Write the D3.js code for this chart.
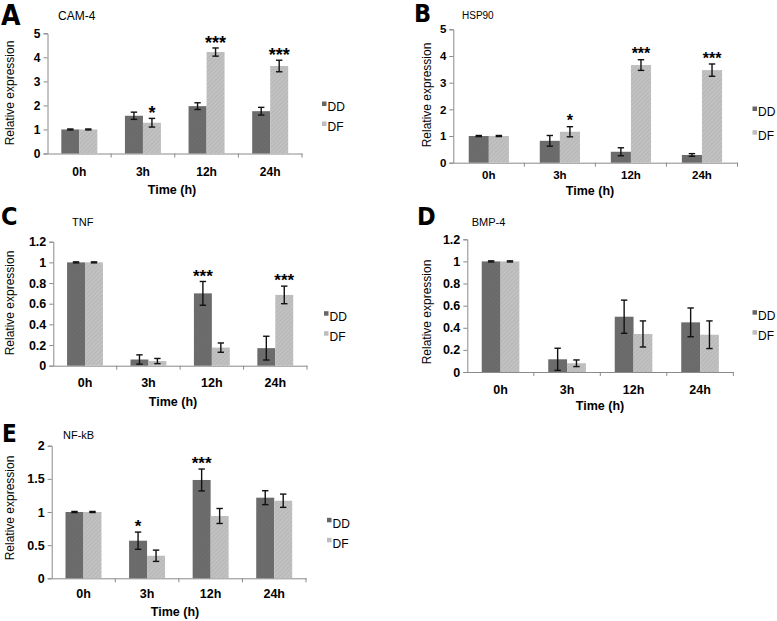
<!DOCTYPE html>
<html>
<head>
<meta charset="utf-8">
<script src="https://cdn.jsdelivr.net/npm/d3@7/dist/d3.min.js"></script>
<style>
  html, body { margin: 0; padding: 0; background: #fff; }
  svg { display: block; }
  text { font-family: "Liberation Sans", Arial, Helvetica, sans-serif; fill: #000; }
</style>
</head>
<body>
<svg id="chart" width="777" height="621"></svg>
<script>
// ---------- data ----------
const categories = ["0h", "3h", "12h", "24h"];
const seriesNames = ["DD", "DF"];

const cam4Values = [[1.0, 1.57, 1.97, 1.76], [1.0, 1.28, 4.22, 3.64]];
const cam4Errors = [[0.02, 0.15, 0.14, 0.16], [0.02, 0.18, 0.17, 0.24]];
const cam4Stars  = [["", "", "", ""], ["", "*", "***", "***"]];
const cam4Ticks  = [0, 1, 2, 3, 4, 5];

const hsp90Values = [[1.0, 0.82, 0.41, 0.29], [1.0, 1.16, 3.66, 3.47]];
const hsp90Errors = [[0.02, 0.2, 0.15, 0.05], [0.02, 0.19, 0.2, 0.23]];
const hsp90Stars  = [["", "", "", ""], ["", "*", "***", "***"]];
const hsp90Ticks  = [0, 1, 2, 3, 4, 5];

const tnfValues = [[1.0, 0.06, 0.70, 0.17], [1.0, 0.045, 0.175, 0.685]];
const tnfErrors = [[0.005, 0.045, 0.115, 0.115], [0.005, 0.025, 0.045, 0.085]];
const tnfStars  = [["", "", "***", ""], ["", "", "", "***"]];
const tnfTicks  = [0, 0.2, 0.4, 0.6, 0.8, 1, 1.2];

const bmp4Values = [[1.0, 0.115, 0.50, 0.449], [1.0, 0.079, 0.344, 0.337]];
const bmp4Errors = [[0.005, 0.1, 0.15, 0.13], [0.005, 0.03, 0.118, 0.125]];
const bmp4Stars  = [["", "", "", ""], ["", "", "", ""]];
const bmp4Ticks  = [0, 0.2, 0.4, 0.6, 0.8, 1, 1.2];

const nfkbValues = [[1.0, 0.567, 1.483, 1.216], [1.0, 0.34, 0.94, 1.17]];
const nfkbErrors = [[0.008, 0.13, 0.165, 0.105], [0.008, 0.085, 0.113, 0.1]];
const nfkbStars  = [["", "*", "***", ""], ["", "", "", ""]];
const nfkbTicks  = [0, 0.5, 1, 1.5, 2];

const panelLetters = ["A", "B", "C", "D", "E"];
const geneNames = ["CAM-4", "HSP90", "TNF", "BMP-4", "NF-kB"];
const yAxisTitle = "Relative expression";
const xAxisTitle = "Time (h)";

// ---------- layout (positions only) ----------
const layouts = [
  { x0: 47.5, x1: 302, y0: 153.5, yTop: 33.3, letter: [1, 25, 28], title: [58, 20, 12], yt: [10, 93], xt: [172, 194], tickY: 176, leg: [322, 107, 127], star: 18, fs: 12 },
  { x0: 453.3, x1: 737.5, y0: 162.7, yTop: 29.3, letter: [414, 22, 25], title: [462, 18.5, 10], yt: [426.7, 95], xt: [590, 195], tickY: 179, leg: [752.5, 112, 135.7], star: 16, fs: 11.5 },
  { x0: 53.3, x1: 307, y0: 365.7, yTop: 241.7, letter: [1, 225, 25], title: [72, 225.5, 11], yt: [10, 303], xt: [173, 406], tickY: 387.5, leg: [324, 316.7, 336.7], star: 17, fs: 12.5 },
  { x0: 467.3, x1: 733.3, y0: 372, yTop: 239.3, letter: [417, 225, 25], title: [471.7, 225.5, 11], yt: [426.7, 312], xt: [600, 410], tickY: 394, leg: [752.5, 315.7, 335.7], star: 17, fs: 12.5 },
  { x0: 51.7, x1: 306, y0: 578.3, yTop: 445.7, letter: [2, 442, 24], title: [63, 439, 11], yt: [10, 508], xt: [175, 616], tickY: 598.5, leg: [327, 523.3, 543.3], star: 17, fs: 12.5 }
];

const panelData = [
  { values: cam4Values, errors: cam4Errors, stars: cam4Stars, ticks: cam4Ticks },
  { values: hsp90Values, errors: hsp90Errors, stars: hsp90Stars, ticks: hsp90Ticks },
  { values: tnfValues, errors: tnfErrors, stars: tnfStars, ticks: tnfTicks },
  { values: bmp4Values, errors: bmp4Errors, stars: bmp4Stars, ticks: bmp4Ticks },
  { values: nfkbValues, errors: nfkbErrors, stars: nfkbStars, ticks: nfkbTicks }
];

const svg = d3.select("#chart");
const defs = svg.append("defs");
const hatch = defs.append("pattern")
  .attr("id", "hatchDF").attr("width", 3).attr("height", 3)
  .attr("patternUnits", "userSpaceOnUse").attr("patternTransform", "rotate(45)");
hatch.append("rect").attr("width", 3).attr("height", 3).attr("fill", "#bababa");
hatch.append("line").attr("x1", 0).attr("y1", 0).attr("x2", 0).attr("y2", 3)
  .attr("stroke", "#cdcdcd").attr("stroke-width", 1.2);

const hatchDD = defs.append("pattern")
  .attr("id", "hatchDD").attr("width", 3).attr("height", 3)
  .attr("patternUnits", "userSpaceOnUse").attr("patternTransform", "rotate(45)");
hatchDD.append("rect").attr("width", 3).attr("height", 3).attr("fill", "#6a6a6a");
hatchDD.append("line").attr("x1", 0).attr("y1", 0).attr("x2", 0).attr("y2", 3)
  .attr("stroke", "#727272").attr("stroke-width", 1);

const fills = { DD: "url(#hatchDD)", DF: "url(#hatchDF)" };
const legendColors = { DD: "#666666", DF: "#bdbdbd" };
const axisColor = "#8a8a8a";

panelData.forEach((pd, pi) => {
  const L = layouts[pi];
  const g = svg.append("g");
  const yMax = pd.ticks[pd.ticks.length - 1];

  const x = d3.scaleBand().domain(categories).range([L.x0, L.x1]).padding(0);
  const xs = d3.scaleBand().domain(seriesNames).range([0, x.bandwidth()])
    .paddingInner(0).paddingOuter(0.767);
  const y = d3.scaleLinear().domain([0, yMax]).range([L.y0, L.yTop]);

  // panel letter
  g.append("text").attr("x", L.letter[0]).attr("y", L.letter[1])
    .attr("font-size", L.letter[2]).attr("font-weight", "bold")
    .style("font-family", "'DejaVu Sans Condensed', 'DejaVu Sans', sans-serif")
    .style("font-stretch", "condensed")
    .text(panelLetters[pi]);

  // gene title
  g.append("text").attr("x", L.title[0]).attr("y", L.title[1])
    .attr("font-size", L.title[2]).text(geneNames[pi]);

  // y axis
  const yAxis = d3.axisLeft(y).tickValues(pd.ticks).tickSize(4).tickPadding(3)
    .tickFormat(d => String(d));
  const yg = g.append("g").attr("transform", `translate(${L.x0},0)`).call(yAxis);
  yg.select(".domain").attr("stroke", axisColor).attr("stroke-width", 1);
  yg.selectAll(".tick line").attr("stroke", axisColor);
  yg.selectAll(".tick text").attr("font-size", L.fs).attr("font-weight", "bold")
    .attr("fill", "#000")
    .style("font-family", "'Liberation Sans', Arial, sans-serif");

  // x axis baseline with category labels
  const xAxis = d3.axisBottom(x).tickSize(0).tickPadding(0);
  const xg = g.append("g").attr("transform", `translate(0,${L.y0})`).call(xAxis);
  xg.select(".domain").attr("stroke", axisColor).attr("stroke-width", 1);
  xg.selectAll(".tick text").attr("font-size", L.fs).attr("font-weight", "bold")
    .attr("fill", "#000").attr("dy", null).attr("y", L.tickY - L.y0)
    .style("font-family", "'Liberation Sans', Arial, sans-serif");

  // boundary tick marks
  g.append("g").selectAll("line").data(categories).join("line")
    .attr("x1", d => x(d) + x.step()).attr("x2", d => x(d) + x.step())
    .attr("y1", L.y0).attr("y2", L.y0 + 4)
    .attr("stroke", axisColor);

  // bars
  const rows = [];
  seriesNames.forEach((s, si) => {
    categories.forEach((c, ci) => {
      rows.push({ s, c, v: pd.values[si][ci], e: pd.errors[si][ci], star: pd.stars[si][ci] });
    });
  });

  g.append("g").selectAll("rect").data(rows).join("rect")
    .attr("x", d => x(d.c) + xs(d.s))
    .attr("y", d => y(d.v))
    .attr("width", xs.bandwidth())
    .attr("height", d => y(0) - y(d.v))
    .attr("fill", d => fills[d.s]);

  // error bars
  const cap = 3.2;
  const eg = g.append("g").attr("stroke", "#111").attr("stroke-width", 1.4);
  rows.forEach(d => {
    const cx = x(d.c) + xs(d.s) + xs.bandwidth() / 2;
    const yt = y(d.v + d.e), yb = y(d.v - d.e);
    eg.append("line").attr("x1", cx).attr("x2", cx).attr("y1", yt).attr("y2", yb);
    eg.append("line").attr("x1", cx - cap).attr("x2", cx + cap).attr("y1", yt).attr("y2", yt);
    eg.append("line").attr("x1", cx - cap).attr("x2", cx + cap).attr("y1", yb).attr("y2", yb);
  });

  // significance stars
  g.append("g").selectAll("text").data(rows.filter(d => d.star)).join("text")
    .attr("x", d => x(d.c) + xs(d.s) + xs.bandwidth() / 2)
    .attr("y", d => y(d.v + d.e) - 9.5 + 0.58 * L.star)
    .attr("text-anchor", "middle")
    .attr("font-size", L.star).attr("font-weight", "bold")
    .text(d => d.star);

  // axis titles
  g.append("text")
    .attr("transform", `translate(${L.yt[0] + 4},${L.yt[1]}) rotate(-90)`)
    .attr("text-anchor", "middle").attr("font-size", 12)
    .text(yAxisTitle);
  g.append("text").attr("x", L.xt[0]).attr("y", L.xt[1])
    .attr("text-anchor", "middle").attr("font-size", 12.5).attr("font-weight", "bold")
    .text(xAxisTitle);

  // legend
  seriesNames.forEach((s, si) => {
    const cy = L.leg[1 + si];
    g.append("rect").attr("x", L.leg[0]).attr("y", cy - 5.5)
      .attr("width", 4.5).attr("height", 4.5).attr("fill", legendColors[s]);
    g.append("text").attr("x", L.leg[0] + 5.5).attr("y", cy + 4.3)
      .attr("font-size", 12).text(s);
  });
});
</script>
</body>
</html>
